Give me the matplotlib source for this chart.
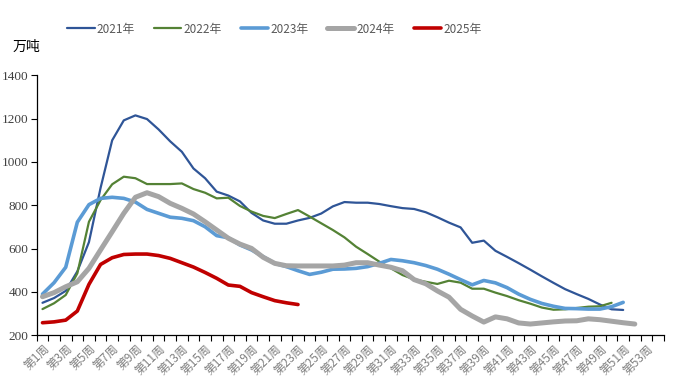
import matplotlib
matplotlib.use("Agg")
import matplotlib.pyplot as plt
import numpy as np

weeks = [f"第{i}周" for i in range(1, 55)]

y2021 = [350, 372, 405, 495, 630, 880, 1100, 1192, 1215, 1198, 1150, 1095, 1047, 970, 925,
         863, 845, 818, 765, 730, 715, 715, 730, 742, 762, 795, 815, 812, 812, 806, 796, 787,
         783, 768, 745, 720, 698, 627, 637, 590, 562, 533, 503, 472, 442, 413, 390, 368, 342,
         320, 317]
y2022 = [321, 348, 386, 486, 724, 824, 897, 932, 925, 898, 898, 898, 901, 875, 858, 832, 835,
         797, 771, 751, 741, 760, 778, 748, 717, 686, 652, 609, 575, 540, 509, 478, 458, 447,
         437, 452, 443, 415, 415, 397, 381, 362, 346, 328, 318, 320, 326, 332, 334, 350]
y2023 = [390, 443, 514, 722, 803, 832, 837, 832, 815, 781, 763, 745, 740, 729, 701, 660, 650,
         617, 594, 563, 532, 517, 498, 481, 491, 505, 506, 509, 517, 532, 550, 544, 535, 522,
         505, 482, 457, 433, 453, 442, 420, 390, 366, 347, 334, 324, 323, 321, 321, 332, 352]
y2024 = [378, 397, 424, 447, 509, 594, 678, 763, 837, 858, 840, 809, 786, 760, 724, 686, 648,
         621, 601, 560, 532, 521, 520, 520, 520, 520, 524, 535, 535, 524, 514, 498, 457, 438,
         405, 376, 320, 289, 261, 285, 276, 257, 252, 257, 262, 266, 267, 276, 272, 265, 258,
         252]
y2025 = [258, 262, 270, 312, 435, 527, 558, 573, 575, 575, 568, 555, 535, 515, 490, 463, 432,
         426, 397, 378, 360, 350, 342]

series = [
    ("2021年", y2021, "#2F5597", 1.6),
    ("2022年", y2022, "#548235", 1.6),
    ("2023年", y2023, "#5B9BD5", 2.6),
    ("2024年", y2024, "#A5A5A5", 3.6),
    ("2025年", y2025, "#C00000", 2.6),
]

plt.rcParams['font.family'] = ['Noto Sans CJK SC', 'DejaVu Sans']

fig = plt.figure(figsize=(6.78, 3.85), dpi=100)
ax = fig.add_axes([0.0541, 0.1291, 0.9250, 0.6753])

for name, vals, col, lw in series:
    x = np.arange(1, len(vals) + 1)
    ax.plot(x, vals, color=col, lw=lw, label=name, solid_capstyle='round', solid_joinstyle='round')

ax.set_xlim(0.5, 54.5)
ax.set_ylim(200, 1400)
ax.set_yticks(range(200, 1401, 200))
ax.set_yticklabels([str(v) for v in range(200, 1401, 200)], family='Liberation Serif',
                   fontsize=9.5, color='#404040')
ax.tick_params(axis='y', direction='out', length=4, width=0.8, color='#000000', pad=2)

xt = np.arange(1, 55, 2)
ax.set_xticks(xt)
ax.set_xticklabels([weeks[i - 1] for i in xt], rotation=45, ha='right', va='top',
                   rotation_mode='anchor', fontsize=8.5, color='#808080')
ax.tick_params(axis='x', which='major', length=0, pad=5)
ax.set_xticks(np.arange(0.5, 55, 1), minor=True)
ax.tick_params(axis='x', which='minor', direction='out', length=4, width=0.8, color='#000000')

for s in ['top', 'right']:
    ax.spines[s].set_visible(False)
for s in ['left', 'bottom']:
    ax.spines[s].set_color('#000000')
    ax.spines[s].set_linewidth(0.9)

fig.text(13 / 678, 1 - 47 / 385, "万吨", fontsize=10, color='#000000', va='center', ha='left')

leg = fig.legend(loc='center', bbox_to_anchor=(274.5 / 678, 1 - 29 / 385), ncol=5,
                 frameon=False, fontsize=8.5, handlelength=2.3, handletextpad=0.2,
                 columnspacing=1.6, labelcolor='#595959')

fig.savefig("out.png", dpi=100)
